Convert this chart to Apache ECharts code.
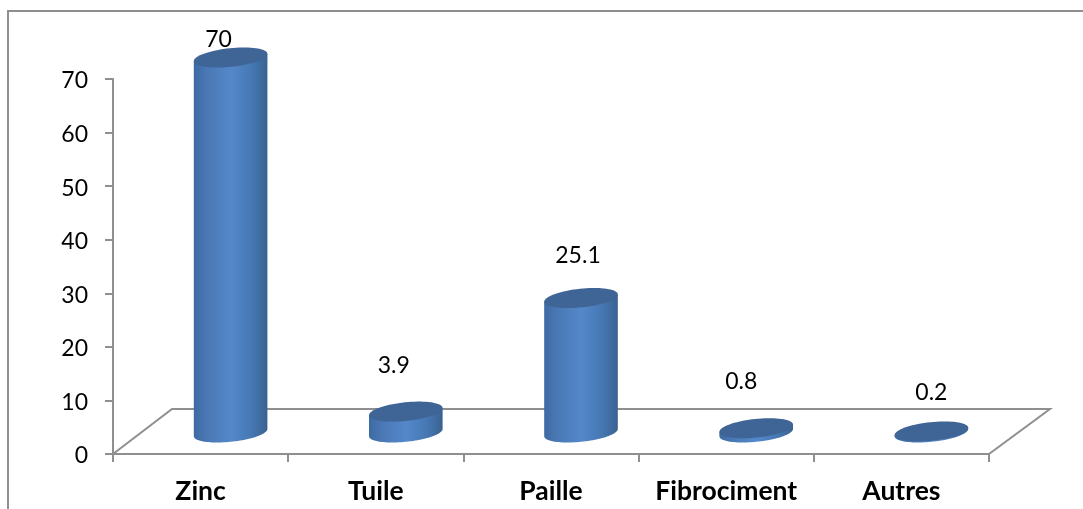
<!DOCTYPE html>
<html>
<head>
<meta charset="utf-8">
<script src="https://cdn.jsdelivr.net/npm/echarts@6/dist/echarts.min.js"></script>
<style>
html, body { margin: 0; padding: 0; background: #fff; }
#main { width: 1083px; height: 509px; }
</style>
</head>
<body>
<div id="main"></div>
<script>
const categories = ['Zinc', 'Tuile', 'Paille', 'Fibrociment', 'Autres'];
const values = [70, 3.9, 25.1, 0.8, 0.2];
const yTicks = { min: 0, max: 70, step: 10 };

// the labels in the reference sit off the cylinder, pixels from the top centre
const labelNudge = [[-12, -18], [-12, -46], [-3, -42], [-15, -47], [0, -39]];

const FONT = 'Lato, Carlito, sans-serif';
const GREY = '#8f8f8f';
const DEPTH_X = 60;     // floor depth, sideways
const DEPTH_Y = 45;     // floor depth, upwards
const RX = 37;
const RY = 9.3;
const TILT = -6 * Math.PI / 180;

// point on the tilted ellipse around cx,cy
function ell(cx, cy, t) {
  const ex = RX * Math.cos(t), ey = RY * Math.sin(t);
  return [
    cx + ex * Math.cos(TILT) - ey * Math.sin(TILT),
    cy + ex * Math.sin(TILT) + ey * Math.cos(TILT)
  ];
}

function ellipseRange(cx, cy, from, to, n) {
  const pts = [];
  for (let i = 0; i <= n; i++) {
    pts.push(ell(cx, cy, from + (to - from) * i / n));
  }
  return pts;
}

function renderFloor(params) {
  const g = params.coordSys;
  const b = g.y + g.height;
  return {
    type: 'polyline',
    shape: {
      points: [
        [g.x, b],
        [g.x + DEPTH_X - 1, b - DEPTH_Y],
        [g.x + g.width + DEPTH_X + 1, b - DEPTH_Y],
        [g.x + g.width, b]
      ]
    },
    style: { stroke: GREY, lineWidth: 2, fill: null },
    silent: true
  };
}

function renderCylinder(params, api) {
  const idx = api.value(0);
  const val = api.value(1);
  const base = api.coord([idx, 0]);
  const top = api.coord([idx, val]);
  const cx = base[0] + DEPTH_X / 2;
  const yBase = base[1] - DEPTH_Y / 2 + 1;
  const yTop = top[1] - DEPTH_Y / 2 + 1;

  // silhouette tangents of the tilted ellipse
  const t0 = Math.atan2(-RY * Math.sin(TILT), RX * Math.cos(TILT));
  const body = [ell(cx, yTop, t0)].concat(
    ellipseRange(cx, yBase, t0, t0 + Math.PI, 48),
    [ell(cx, yTop, t0 + Math.PI)]
  );
  const nudge = labelNudge[idx];

  return {
    type: 'group',
    children: [
      {
        type: 'polygon',
        shape: { points: body },
        style: {
          fill: new echarts.graphic.LinearGradient(0, 0, 1, 0, [
            { offset: 0, color: '#3e6aa2' },
            { offset: 0.16, color: '#4977b3' },
            { offset: 0.5, color: '#5488ca' },
            { offset: 0.78, color: '#4678b4' },
            { offset: 1, color: '#3a6290' }
          ])
        }
      },
      {
        type: 'polygon',
        shape: { points: ellipseRange(cx, yTop, 0, Math.PI * 2, 72) },
        style: { fill: '#3e6595' }
      },
      {
        type: 'text',
        x: cx + nudge[0],
        y: yTop + nudge[1],
        style: {
          text: String(values[idx]),
          font: '23px ' + FONT,
          fill: '#000',
          align: 'center',
          verticalAlign: 'middle'
        }
      }
    ]
  };
}

const chart = echarts.init(document.getElementById('main'));
chart.setOption({
  animation: false,
  backgroundColor: '#fff',
  grid: { left: 113, right: 94, top: 79, bottom: 55 },
  graphic: [
    {
      type: 'polyline',
      shape: { points: [[8, 509], [8, 11], [1083, 11]] },
      style: { stroke: GREY, lineWidth: 2, fill: null },
      silent: true
    }
  ],
  xAxis: {
    type: 'category',
    data: categories,
    boundaryGap: true,
    axisLine: { lineStyle: { color: GREY, width: 2 } },
    axisTick: { show: true, interval: 0, alignWithLabel: false, length: 8, lineStyle: { color: GREY, width: 2 } },
    axisLabel: { interval: 0, color: '#000', fontFamily: FONT, fontWeight: 'bold', fontSize: 26.5, margin: 24 }
  },
  yAxis: {
    type: 'value',
    min: yTicks.min,
    max: yTicks.max,
    interval: yTicks.step,
    splitLine: { show: false },
    axisLine: { show: true, lineStyle: { color: GREY, width: 2 } },
    axisTick: { show: true, length: 8, lineStyle: { color: GREY, width: 2 } },
    axisLabel: { color: '#000', fontFamily: FONT, fontSize: 23, margin: 25, verticalAlign: 'top', lineHeight: 4 }
  },
  series: [
    {
      type: 'custom',
      coordinateSystem: 'cartesian2d',
      renderItem: renderFloor,
      data: [[0, 0]],
      silent: true,
      z: 1,
      clip: false
    },
    {
      type: 'custom',
      coordinateSystem: 'cartesian2d',
      renderItem: renderCylinder,
      encode: { x: 0, y: 1 },
      data: values.map((v, i) => [i, v]),
      z: 2,
      clip: false
    }
  ]
});
</script>
</body>
</html>
